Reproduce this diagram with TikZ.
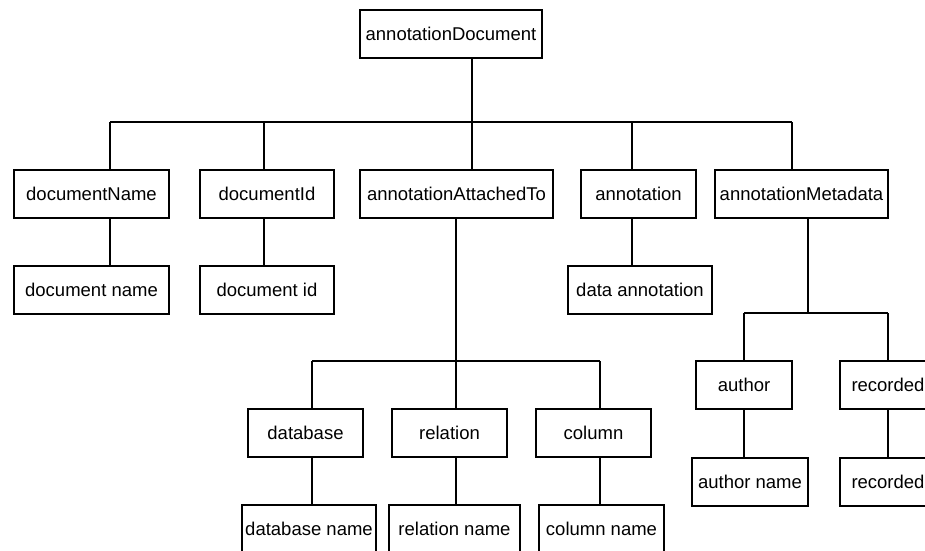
\documentclass[tikz,border=0pt]{standalone}
\usepackage{fontspec}
\setmainfont{Liberation Sans}
\begin{document}
\begin{tikzpicture}[x=1pt,y=-1pt,
  box/.style={draw=black,line width=1.7pt,inner sep=0pt,minimum height=48pt,font=\fontsize{18.5}{22}\selectfont},
  link/.style={draw=black,line width=1.7pt}]
\useasboundingbox (0,0) rectangle (925,550);
\clip (0,0) rectangle (925,550);
% level 0
\node[box,minimum width=182pt] (root) at (451,34) {annotationDocument};
% level 1
\node[box,minimum width=155pt] (dn)   at (91.5,194) {documentName};
\node[box,minimum width=134pt] (did)  at (267,194) {documentId};
\node[box,minimum width=193pt] (aat)  at (456.5,194) {annotationAttachedTo};
\node[box,minimum width=115pt] (ann)  at (638.5,194) {annotation};
\node[box,minimum width=173pt] (meta) at (801.5,194) {annotationMetadata};
% level 2
\node[box,minimum width=155pt] (dname) at (91.5,290) {document name};
\node[box,minimum width=134pt] (didv)  at (267,290) {document id};
\node[box,minimum width=144pt] (dann)  at (640,290) {data annotation};
% attachedTo children
\node[box,minimum width=115pt] (db)  at (305.5,433) {database};
\node[box,minimum width=115pt] (rel) at (449.5,433) {relation};
\node[box,minimum width=115pt] (col) at (593.5,433) {column};
\node[box,minimum width=134pt] (dbn)  at (309,529) {database name};
\node[box,minimum width=131pt] (reln) at (454.5,529) {relation name};
\node[box,minimum width=125pt] (coln) at (601.5,529) {column name};
% metadata children
\node[box,minimum width=96pt] (au)  at (744,385) {author};
\node[box,minimum width=96pt] (rec) at (888,385) {recorded};
\node[box,minimum width=116pt] (aun)  at (750,482) {author name};
\node[box,minimum width=96pt] (recn) at (888,482) {recorded};
% junction coordinates
\coordinate (t1) at (110,122);
\coordinate (t2) at (264,122);
\coordinate (t3) at (472,122);
\coordinate (t4) at (632,122);
\coordinate (t5) at (792,122);
\coordinate (u1) at (312,361);
\coordinate (u2) at (456,361);
\coordinate (u3) at (600,361);
\coordinate (m0) at (808,313);
\coordinate (m1) at (744,313);
\coordinate (m2) at (888,313);
% level 0 -> 1
\draw[link] (root.south -| t3) -- (t3);
\draw[link] (t1) -- (t5);
\draw[link] (t1) -- (dn.north -| t1);
\draw[link] (t2) -- (did.north -| t2);
\draw[link] (t3) -- (aat.north -| t3);
\draw[link] (t4) -- (ann.north -| t4);
\draw[link] (t5) -- (meta.north -| t5);
% level 1 -> 2
\draw[link] (dn.south -| t1) -- (dname.north -| t1);
\draw[link] (did.south -| t2) -- (didv.north -| t2);
\draw[link] (ann.south -| t4) -- (dann.north -| t4);
% attachedTo subtree
\draw[link] (aat.south -| u2) -- (u2);
\draw[link] (u1) -- (u3);
\draw[link] (u1) -- (db.north -| u1);
\draw[link] (u2) -- (rel.north -| u2);
\draw[link] (u3) -- (col.north -| u3);
\draw[link] (db.south -| u1) -- (dbn.north -| u1);
\draw[link] (rel.south -| u2) -- (reln.north -| u2);
\draw[link] (col.south -| u3) -- (coln.north -| u3);
% metadata subtree
\draw[link] (meta.south -| m0) -- (m0);
\draw[link] (m1) -- (m2);
\draw[link] (m1) -- (au.north -| m1);
\draw[link] (m2) -- (rec.north -| m2);
\draw[link] (au.south -| m1) -- (aun.north -| m1);
\draw[link] (rec.south -| m2) -- (recn.north -| m2);
\end{tikzpicture}
\end{document}
